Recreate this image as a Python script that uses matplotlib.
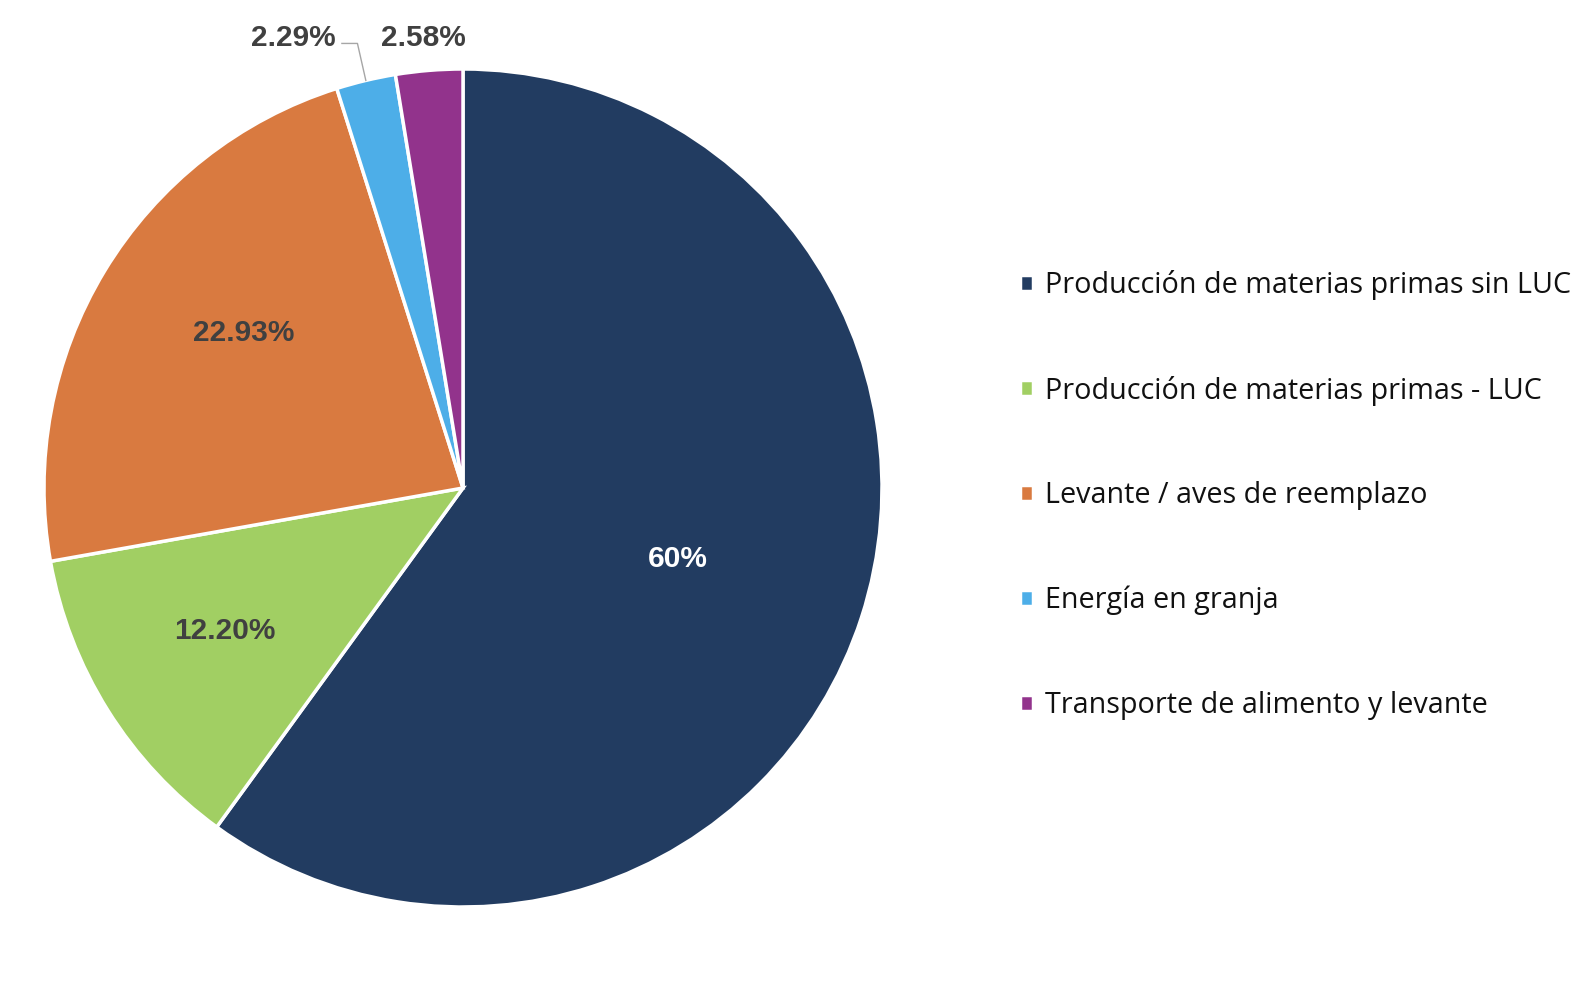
import numpy as np
import matplotlib.pyplot as plt

# data, clockwise from 12 o'clock
labels = [
    'Producción de materias primas sin LUC',
    'Producción de materias primas - LUC',
    'Levante / aves de reemplazo',
    'Energía en granja',
    'Transporte de alimento y levante',
]
values = [60.00, 12.20, 22.93, 2.29, 2.58]
pct_text = ['60%', '12.20%', '22.93%', '2.29%', '2.58%']
colors = ['#223c61', '#a1cf63', '#d97a40', '#4daee8', '#92338c']
label_colors = ['white', '#404040', '#404040', '#404040', '#404040']

fig = plt.figure(figsize=(15.9, 9.82), dpi=100)
W, H = 1590, 982
cx, cy, r = 463, 488, 419
ax = fig.add_axes([(cx - r) / W, (H - cy - r) / H, 2 * r / W, 2 * r / H])

wedges, _ = ax.pie(values, colors=colors, startangle=90, counterclock=False,
                   radius=1.0, center=(0, 0),
                   wedgeprops=dict(edgecolor='white', linewidth=2.5))
ax.set_xlim(-1, 1)
ax.set_ylim(-1, 1)
ax.set_aspect('equal')
ax.axis('off')

# data label positions in units of the pie radius
label_pos = [(0.512, -0.170), (-0.568, -0.342), (-0.524, 0.371),
             (-0.405, 1.073), (-0.095, 1.073)]
for i, (lx, ly) in enumerate(label_pos):
    ax.text(lx, ly, pct_text[i], ha='center', va='center', fontsize=21.5,
            fontweight='bold', color=label_colors[i], family='Liberation Sans')

# leader line for the small blue slice
mid_b = np.deg2rad((wedges[3].theta1 + wedges[3].theta2) / 2)
ex, ey = np.cos(mid_b), np.sin(mid_b)
ax.plot([-0.289, ex - 0.02, ex], [1.061, 1.061, ey], color='#a6a6a6', lw=1,
        clip_on=False)

fig.legend(wedges, labels, loc='center left', bbox_to_anchor=(0.625, 0.496),
           frameon=False, prop=dict(family='Open Sans', size=20.7),
           handlelength=0.48, handleheight=0.48, handletextpad=0.4,
           labelspacing=2.63, labelcolor='#111111')

fig.savefig('out.png', dpi=100, facecolor='white')
